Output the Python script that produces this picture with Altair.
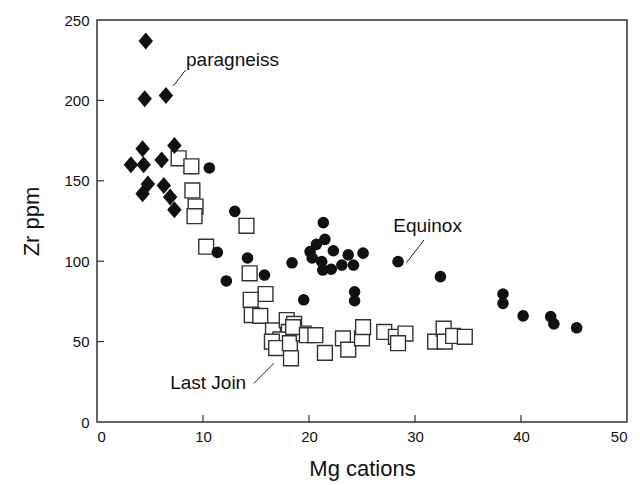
import altair as alt
import pandas as pd

# Paragneiss (filled diamonds)
para_x = [4.6, 4.5, 6.5, 7.3, 4.3, 6.1, 3.2, 4.4, 4.8, 4.3, 6.3, 6.9, 7.3]
para_y = [237, 201, 203, 172, 170, 163, 160, 160, 148, 142, 147, 140, 132]

# Last Join (open squares)
last_x = [7.7, 8.9, 9.0, 9.3, 9.2, 10.3, 14.1, 14.4, 15.9, 14.5, 14.6, 15.4, 16.6, 17.9,
          18.6, 18.1, 17.3, 16.5, 16.9, 18.2, 18.3, 19.5, 18.5, 19.8, 20.6, 21.5, 23.2,
          23.7, 25.0, 25.1, 27.1, 28.2, 29.1, 28.4, 31.9, 32.7, 32.8, 33.6, 34.7]
last_y = [164, 159, 144, 134, 128, 109, 122, 92.5, 79.6, 76, 66.5, 66, 57, 63.4,
          61, 56, 51.4, 50, 46, 49, 39.6, 55, 59, 54, 54, 43, 52,
          45, 52, 59, 56, 53, 55, 49, 50, 58, 50, 53.5, 53]

# Equinox (filled circles)
equi_x = [10.6, 13.0, 11.35, 14.2, 12.2, 15.8, 18.4, 19.5, 21.35, 21.5, 20.7, 20.1, 20.3,
          22.3, 23.7, 25.1, 21.2, 21.3, 22.1, 23.1, 24.2, 24.3, 24.3, 28.4, 32.4,
          38.3, 38.3, 40.2, 42.8, 43.1, 45.25]
equi_y = [158, 131, 105.5, 102, 87.7, 91.4, 99, 76, 124, 113.6, 110.5, 106, 102,
          106.5, 104, 105, 99.7, 94.5, 95, 97.6, 97.6, 81, 75.4, 99.7, 90.4,
          79.6, 73.8, 66, 65.5, 61, 58.6]

# Annotations
label_text = ["paragneiss", "Equinox", "Last Join"]
label_x = [8.4, 27.95, 6.9]
label_y = [221.6, 118.3, 20.3]
leader_x = [7.2, 29.2, 14.8]
leader_y = [209, 99.1, 24]
leader_x2 = [8.37, 30.85, 16.7]
leader_y2 = [219, 113.2, 36.5]

x_ticks = [0, 10, 20, 30, 40, 50]
y_ticks = [0, 50, 100, 150, 200, 250]
inner_x_ticks = [10, 20, 30, 40]
inner_y_ticks = [50, 100, 150, 200]

FONT = "Liberation Sans"
W, H = 530, 402

xscale = alt.Scale(domain=[0, 50], nice=False, zero=False)
yscale = alt.Scale(domain=[0, 250], nice=False, zero=False)

xaxis = alt.Axis(values=x_ticks, title="Mg cations", grid=False, ticks=False, domain=False,
                 labelFontSize=15, labelPadding=7, titleFontSize=22, titleFontWeight="normal",
                 titlePadding=14, labelColor="#111", titleColor="#111", labelFont=FONT, titleFont=FONT)
yaxis = alt.Axis(values=y_ticks, title="Zr ppm", grid=False, ticks=False, domain=False,
                 labelFontSize=15, labelPadding=8, titleFontSize=22, titleFontWeight="normal",
                 titlePadding=20, labelColor="#111", titleColor="#111", labelFont=FONT, titleFont=FONT)

df_para = pd.DataFrame({"x": para_x, "y": para_y})
df_last = pd.DataFrame({"x": last_x, "y": last_y})
df_equi = pd.DataFrame({"x": equi_x, "y": equi_y})
df_lab = pd.DataFrame({"x": label_x, "y": label_y, "t": label_text})
df_lead = pd.DataFrame({"x": leader_x, "y": leader_y, "x2": leader_x2, "y2": leader_y2})
df_xt = pd.DataFrame({"v": inner_x_ticks})
df_yt = pd.DataFrame({"v": inner_y_ticks})

base_x = alt.X("x:Q", scale=xscale, axis=xaxis)
base_y = alt.Y("y:Q", scale=yscale, axis=yaxis)

squares = alt.Chart(df_last).mark_point(
    shape="square", size=220, filled=True, fill="white", stroke="#333", strokeWidth=1.4, opacity=1
).encode(x=base_x, y=base_y)

diamonds = alt.Chart(df_para).mark_point(
    shape="M-0.85,0L0,-1L0.85,0L0,1Z", size=289, filled=True, color="#111", opacity=1
).encode(x=alt.X("x:Q", scale=xscale), y=alt.Y("y:Q", scale=yscale))

circles = alt.Chart(df_equi).mark_circle(size=135, color="#111", opacity=1).encode(
    x=alt.X("x:Q", scale=xscale), y=alt.Y("y:Q", scale=yscale))

labels = alt.Chart(df_lab).mark_text(
    align="left", baseline="alphabetic", fontSize=19, font=FONT, color="#111"
).encode(x=alt.X("x:Q", scale=xscale), y=alt.Y("y:Q", scale=yscale), text="t:N")

leaders = alt.Chart(df_lead).mark_rule(color="#222", strokeWidth=1).encode(
    x=alt.X("x:Q", scale=xscale), y=alt.Y("y:Q", scale=yscale),
    x2="x2:Q", y2="y2:Q")

xt = alt.Chart(df_xt).mark_rule(color="#333", strokeWidth=1.2).encode(
    x=alt.X("v:Q", scale=xscale), y=alt.value(H), y2=alt.value(H - 7))
yt = alt.Chart(df_yt).mark_rule(color="#333", strokeWidth=1.2).encode(
    y=alt.Y("v:Q", scale=yscale), x=alt.value(0), x2=alt.value(7))

chart = alt.layer(squares, diamonds, circles, leaders, labels, xt, yt).properties(
    width=W, height=H,
    autosize=alt.AutoSizeParams(type="none"),
    padding={"left": 97, "top": 20, "right": 13, "bottom": 63},
    background="white",
).configure_view(stroke="#333", strokeWidth=1.5)

chart.save("out.html", embed_options={"renderer": "svg", "actions": False})
